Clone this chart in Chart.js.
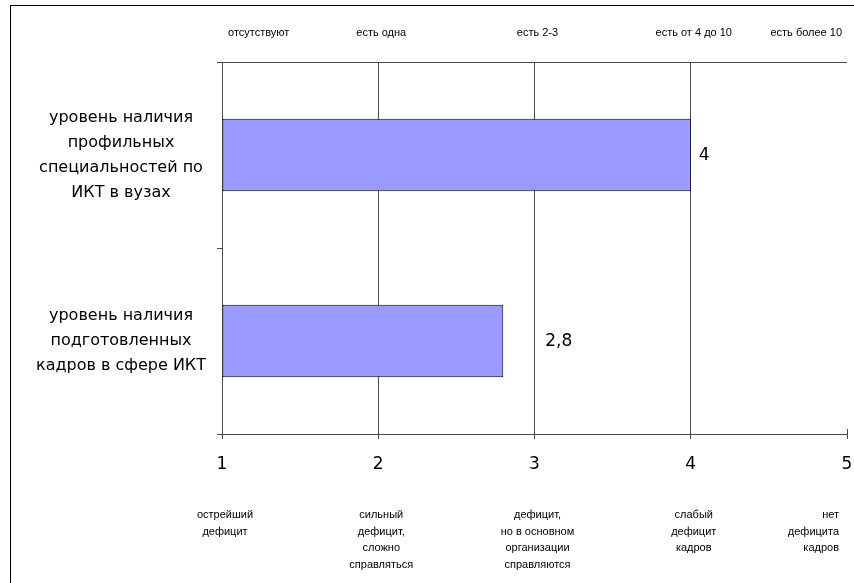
<!DOCTYPE html>
<html><head><meta charset="utf-8">
<script src="https://cdn.jsdelivr.net/npm/chart.js@4/dist/chart.umd.min.js"></script>
<style>html,body{margin:0;padding:0;background:#fff}#wrap{width:854px;height:583px;position:relative}</style>
</head><body><div id="wrap"><canvas id="c" width="854" height="583"></canvas></div>
<script>
const categories = [
  ["уровень наличия", "профильных", "специальностей по", "ИКТ в вузах"],
  ["уровень наличия", "подготовленных", "кадров в сфере ИКТ"]
];
const values = [4, 2.8];
const xTicks = [1, 2, 3, 4, 5];
const topLabels = ["отсутствуют", "есть одна", "есть 2-3", "есть от 4 до 10", "есть более 10"];
const bottomLabels = [
  ["острейший", "дефицит"],
  ["сильный", "дефицит,", "сложно", "справляться"],
  ["дефицит,", "но в основном", "организации", "справляются"],
  ["слабый", "дефицит", "кадров"],
  ["нет", "дефицита", "кадров"]
];

const AXIS = '#4a4a4a';
const labelOffsets = [8, 42];

const decor = {
  id: 'decor',
  beforeDraw(chart) {
    const ctx = chart.ctx;
    ctx.save();
    ctx.strokeStyle = '#000';
    ctx.lineWidth = 1;
    ctx.strokeRect(10.5, 5.5, 900, 700);
    ctx.restore();
  },
  afterDraw(chart) {
    const {ctx, chartArea: a, scales: {x}} = chart;
    ctx.save();
    ctx.strokeStyle = AXIS;
    ctx.lineWidth = 1;
    ctx.beginPath();
    ctx.moveTo(a.left - 5, Math.round(a.top) + 0.5);
    ctx.lineTo(a.right, Math.round(a.top) + 0.5);
    ctx.stroke();
    const p5 = Math.round(x.getPixelForValue(xTicks[xTicks.length - 1])) + 0.5;
    ctx.beginPath();
    ctx.moveTo(p5, a.bottom - 5);
    ctx.lineTo(p5, a.bottom);
    ctx.stroke();

    ctx.fillStyle = '#000';
    ctx.textBaseline = 'middle';
    ctx.font = '11px "Liberation Sans", Arial, sans-serif';
    const n = topLabels.length;
    topLabels.forEach((t, i) => {
      const px = x.getPixelForValue(xTicks[i]);
      let al = 'center', dx = 3;
      if (i === 0) { al = 'left'; dx = 6; }
      else if (i === n - 1) { al = 'right'; dx = -5; }
      ctx.textAlign = al;
      ctx.fillText(t, px + dx, a.top - 29);
    });
    bottomLabels.forEach((lines, i) => {
      const px = x.getPixelForValue(xTicks[i]);
      let al = 'center', dx = 3;
      if (i === n - 1) { al = 'right'; dx = -8; }
      ctx.textAlign = al;
      lines.forEach((l, j) => ctx.fillText(l, px + dx, a.bottom + 81 + j * 16.5));
    });

    const meta = chart.getDatasetMeta(0);
    ctx.font = '17px "DejaVu Sans", sans-serif';
    ctx.textAlign = 'left';
    meta.data.forEach((bar, i) => {
      ctx.fillText(String(values[i]).replace('.', ','), bar.x + labelOffsets[i], bar.y + 1);
    });
    ctx.restore();
  }
};

new Chart(document.getElementById('c'), {
  type: 'bar',
  data: {
    labels: categories,
    datasets: [{
      data: values,
      base: 1,
      backgroundColor: '#9999FF',
      borderColor: '#000',
      borderWidth: 1,
      borderSkipped: false,
      barPercentage: 0.39,
      categoryPercentage: 1
    }]
  },
  options: {
    indexAxis: 'y',
    responsive: false,
    animation: false,
    devicePixelRatio: 1,
    layout: {padding: {left: 0, right: 7, top: 62, bottom: 109}},
    plugins: {legend: {display: false}, tooltip: {enabled: false}},
    scales: {
      x: {
        type: 'linear',
        min: 1, max: 5,
        afterBuildTicks: s => { s.ticks = xTicks.map(v => ({value: v})); },
        afterFit: s => { s.height = 40; s.paddingLeft = 0; s.paddingRight = 0; },
        ticks: {
          color: '#000',
          padding: 15,
          maxRotation: 0,
          font: {family: '"DejaVu Sans"', size: 17},
          callback: v => String(v)
        },
        grid: {
          color: c => (c.tick && c.tick.value === 5) ? 'rgba(0,0,0,0)' : AXIS,
          tickColor: AXIS,
          tickLength: 5,
          lineWidth: 1
        },
        border: {display: true, color: AXIS, width: 1}
      },
      y: {
        type: 'category',
        offset: true,
        afterFit: s => { s.width = 222; s.paddingTop = 0; s.paddingBottom = 0; },
        ticks: {
          color: '#000',
          crossAlign: 'center',
          padding: 11,
          font: {family: '"DejaVu Sans"', size: 16, lineHeight: 1.5625}
        },
        grid: {
          offset: true,
          drawOnChartArea: false,
          color: AXIS,
          tickLength: 5
        },
        border: {display: true, color: AXIS, width: 1}
      }
    }
  },
  plugins: [decor]
});
</script>
</body></html>
